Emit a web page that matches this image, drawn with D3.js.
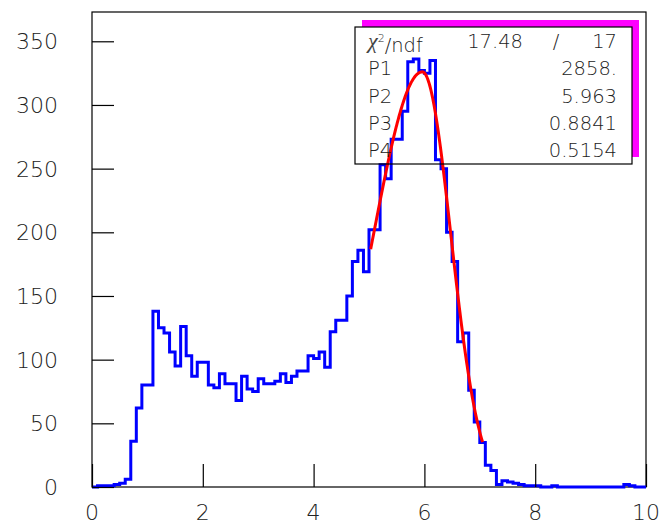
<!DOCTYPE html>
<html>
<head>
<meta charset="utf-8">
<script src="https://cdn.jsdelivr.net/npm/d3@7"></script>
<style>
  body { margin: 0; background: #fff; }
  svg { display: block; }
  text { font-family: "DejaVu Sans", "Liberation Sans", sans-serif; font-weight: 200; fill: #222; }
</style>
</head>
<body>
<script>
// histogram: 100 bins from 0 to 10
var binLow = 0, binHigh = 10, binWidth = 0.1;
var counts = [
   0,   1,   1,   1,   2,   3,   6,  36,  62,  80,
  80, 138, 125, 121, 106,  95, 126, 103,  87,  98,
  98,  80,  78,  89,  81,  81,  68,  87,  77,  75,
  85,  81,  81,  83,  89,  82,  87,  91,  91, 103,
 101, 106,  94, 122, 131, 131, 150, 177, 186, 169,
 202, 202, 253, 242, 273, 273, 295, 334, 336, 327,
 325, 335, 257, 250, 200, 177, 114, 121,  76,  51,
  35,  17,  13,   2,   5,   4,   3,   2,   1,   1,
   1,   0,   0,   1,   0,   0,   0,   0,   0,   0,
   0,   0,   0,   0,   0,   0,   2,   1,   0,   0
];

// fit result shown in the stats box
var statLabels = ["P1", "P2", "P3", "P4"];
var statValues = ["2858.", "5.963", "0.8841", "0.5154"];
var chi2 = "17.48", ndf = "17";
var fitMean = 5.963, fitSigmaLeft = 0.8841, fitSigmaRight = 0.5154;
var fitPeak = 326;          // height of the fitted curve at the mean
var fitRange = [5.03, 7.05];

var xTicks = [0, 2, 4, 6, 8, 10];
var yTicks = [0, 50, 100, 150, 200, 250, 300, 350];
var yMax = 373;

var width = 659, height = 524;
var frame = {left: 92, right: 646, top: 12, bottom: 487};

var x = d3.scaleLinear().domain([binLow, binHigh]).range([frame.left, frame.right]);
var y = d3.scaleLinear().domain([0, yMax]).range([frame.bottom, frame.top]);

var svg = d3.select("body").append("svg")
   .attr("width", width)
   .attr("height", height);

// frame
svg.append("rect")
   .attr("x", frame.left).attr("y", frame.top)
   .attr("width", frame.right - frame.left)
   .attr("height", frame.bottom - frame.top)
   .attr("fill", "none")
   .attr("stroke", "#000")
   .attr("stroke-width", 1.2);

// histogram outline
var pts = [[binLow, 0]];
counts.forEach(function(c, i) { pts.push([binLow + i * binWidth, c]); });
pts.push([binHigh, 0]);

var step = d3.line()
   .x(function(d) { return x(d[0]); })
   .y(function(d) { return y(d[1]); })
   .curve(d3.curveStepAfter);

svg.append("path")
   .attr("d", step(pts))
   .attr("fill", "none")
   .attr("stroke", "#0000ff")
   .attr("stroke-width", 3);

// fitted curve (bifurcated gaussian)
function fitFn(v) {
   var s = v < fitMean ? fitSigmaLeft : fitSigmaRight;
   return fitPeak * Math.exp(-(v - fitMean) * (v - fitMean) / (2 * s * s));
}
var fitPts = d3.range(fitRange[0], fitRange[1] + 0.001, 0.01).map(function(v) { return [v, fitFn(v)]; });

svg.append("path")
   .attr("d", d3.line()
      .x(function(d) { return x(d[0]); })
      .y(function(d) { return y(d[1]); })(fitPts))
   .attr("fill", "none")
   .attr("stroke", "#ff0000")
   .attr("stroke-width", 3);

// x axis
var xAxis = svg.append("g")
   .attr("transform", "translate(0," + frame.bottom + ")");
xAxis.call(d3.axisTop(x).tickValues(d3.range(0, 10.01, 0.5)).tickSize(11).tickFormat(""));
xAxis.call(d3.axisTop(x).tickValues(xTicks).tickSize(23).tickFormat(""));
xAxis.selectAll(".domain").remove();
xAxis.selectAll("line").attr("stroke", "#000").attr("stroke-width", 1.2);
xAxis.selectAll(".xlab")
   .data(xTicks)
   .enter().append("text")
   .attr("class", "xlab")
   .attr("x", function(d) { return x(d); })
   .attr("y", 25)
   .attr("dy", "0.36em")
   .attr("text-anchor", "middle")
   .style("font-size", "22px")
   .text(function(d) { return d; });

// y axis
var yAxis = svg.append("g")
   .attr("transform", "translate(" + frame.left + ",0)");
yAxis.call(d3.axisRight(y).tickValues(d3.range(0, yMax, 10)).tickSize(11).tickFormat(""));
yAxis.call(d3.axisRight(y).tickValues(yTicks).tickSize(22).tickFormat(""));
yAxis.selectAll(".domain").remove();
yAxis.selectAll("line").attr("stroke", "#000").attr("stroke-width", 1.2);
yAxis.selectAll(".ylab")
   .data(yTicks)
   .enter().append("text")
   .attr("class", "ylab")
   .attr("x", -34)
   .attr("y", function(d) { return y(d); })
   .attr("dy", "0.36em")
   .attr("text-anchor", "end")
   .style("font-size", "22px")
   .text(function(d) { return d; });

// stats box with shadow strips
var box = {x: 355, y: 27, w: 277, h: 137}, sh = 7;
svg.append("rect")
   .attr("x", box.x + sh).attr("y", box.y - sh)
   .attr("width", box.w).attr("height", sh)
   .attr("fill", "#ff00ff");
svg.append("rect")
   .attr("x", box.x + box.w).attr("y", box.y - sh)
   .attr("width", sh).attr("height", box.h)
   .attr("fill", "#ff00ff");
svg.append("rect")
   .attr("x", box.x).attr("y", box.y)
   .attr("width", box.w).attr("height", box.h)
   .attr("fill", "none")
   .attr("stroke", "#000")
   .attr("stroke-width", 1.2);

var rowH = box.h / 5;
var stats = svg.append("g").style("font-size", "19.5px");

var r0 = stats.append("text")
   .attr("x", box.x + 13)
   .attr("y", box.y + rowH * 0.5)
   .attr("dy", "0.36em");
r0.append("tspan")
   .style("font-family", "'Liberation Serif', serif")
   .style("font-style", "italic")
   .style("font-weight", "normal")
   .style("fill", "#444")
   .style("font-size", "22px")
   .text("χ");
r0.append("tspan").attr("dy", "-0.5em").style("font-size", "11px").text("2");
r0.append("tspan").attr("dy", "0.5em").text("/ndf");

stats.append("text")
   .attr("x", 523).attr("y", box.y + rowH * 0.5).attr("dy", "0.36em")
   .attr("text-anchor", "end").text(chi2);
stats.append("text")
   .attr("x", 556).attr("y", box.y + rowH * 0.5).attr("dy", "0.36em")
   .attr("text-anchor", "middle").text("/");
stats.append("text")
   .attr("x", 617).attr("y", box.y + rowH * 0.5).attr("dy", "0.36em")
   .attr("text-anchor", "end").text(ndf);

statLabels.forEach(function(lab, i) {
   var cy = box.y + rowH * (i + 1.5);
   stats.append("text")
      .attr("x", box.x + 13).attr("y", cy).attr("dy", "0.36em")
      .text(lab);
   stats.append("text")
      .attr("x", 617).attr("y", cy).attr("dy", "0.36em")
      .attr("text-anchor", "end")
      .text(statValues[i]);
});
</script>
</body>
</html>
